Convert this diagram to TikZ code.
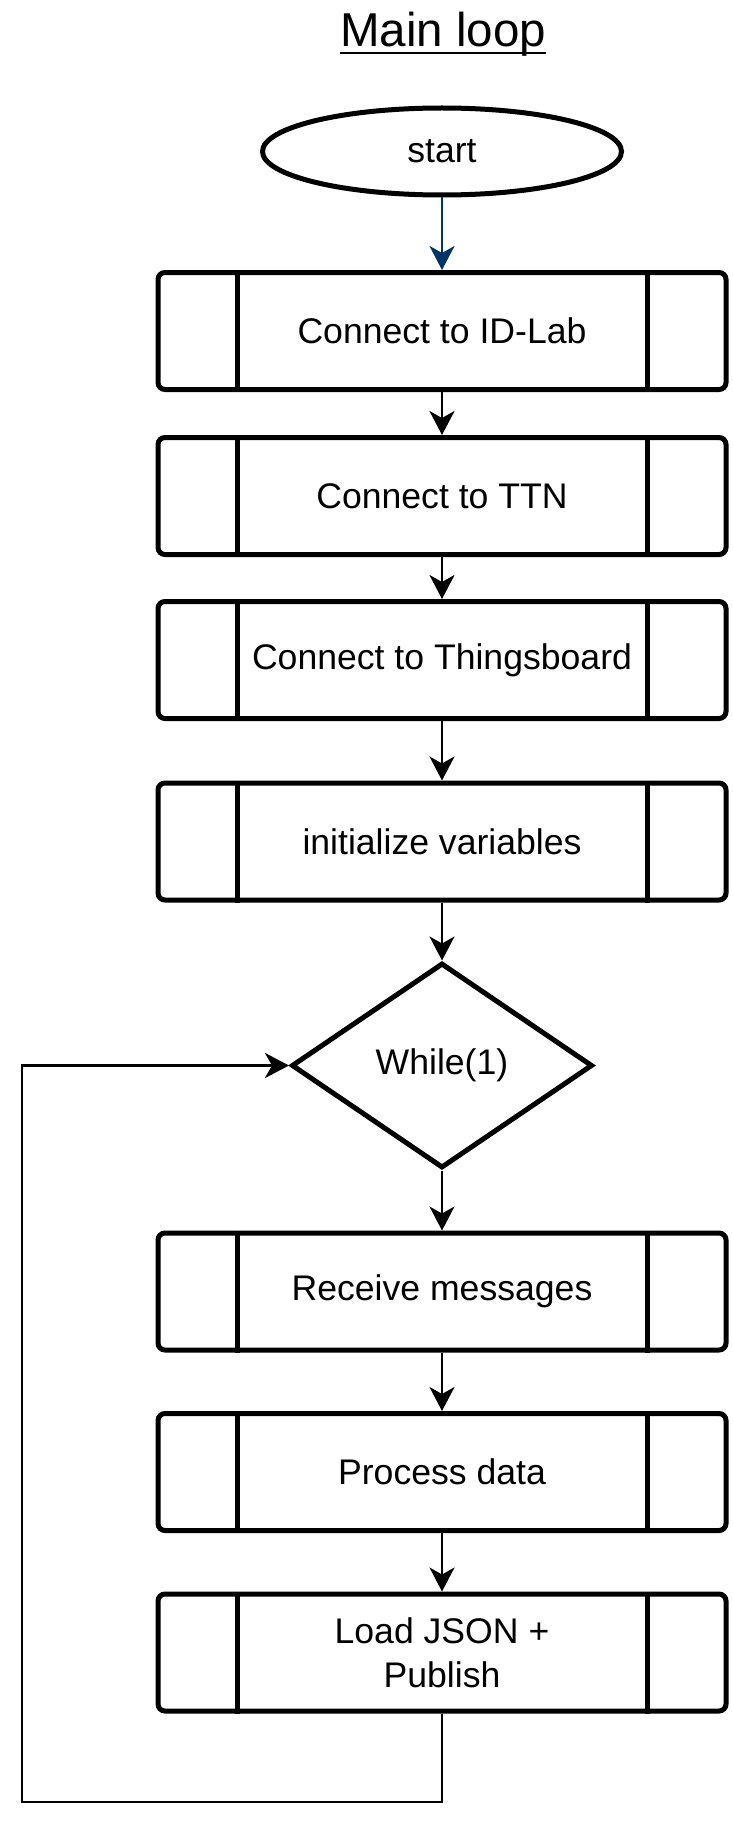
\documentclass[tikz,border=0pt]{standalone}
\usepackage{fontspec}
\setmainfont{Liberation Sans}
\usetikzlibrary{shapes.geometric,arrows.meta}
\definecolor{startblue}{RGB}{0,51,102}
\begin{document}
\begin{tikzpicture}[x=1pt,y=-1pt,
  boxfont/.style={font=\fontsize{35.6}{44}\selectfont},
  proc/.style={draw, line width=5pt, rounded corners=7pt, minimum width=568pt, minimum height=117pt, inner sep=0pt, boxfont, align=center},
  term/.style={draw, ellipse, line width=5pt, minimum width=359pt, minimum height=87pt, inner sep=0pt, boxfont},
  dec/.style={draw, diamond, line width=5pt, minimum width=301pt, minimum height=205pt, inner sep=0pt, boxfont},
  flow/.style={line width=2.4pt, -{Stealth[length=24pt,width=25pt,inset=7pt]}},
  inner/.style={line width=5pt},
]
\useasboundingbox (0,0) rectangle (732,1827);
\node[font=\fontsize{47.5}{50}\selectfont, anchor=base, inner sep=0pt] (title) at (443,47) {Main loop};
\draw[line width=2.5pt] ([yshift=-6pt]title.base west) -- ([yshift=-6pt]title.base east);

\node[term] (start) at (442,151.5) {start};
\node[proc] (b1) at (442,331) {Connect to ID-Lab};
\node[proc] (b2) at (442,496) {Connect to TTN};
\node[proc] (b3) at (442,660) {Connect to Thingsboard};
\node[proc] (b4) at (442,841.5) {initialize variables};
\node[dec] (dia) at (442,1065.5) {While(1)};
\node[proc] (b5) at (442,1291.5) {Receive messages};
\node[proc] (b6) at (442,1472) {Process data};
\node[proc] (b7) at (442,1652.5) {Load JSON +\\ Publish};

\foreach \n in {b1,b2,b3,b4,b5,b6,b7} {
  \draw[inner] ([xshift=82pt]\n.north west) -- ([xshift=82pt]\n.south west);
  \draw[inner] ([xshift=-81pt]\n.north east) -- ([xshift=-81pt]\n.south east);
}

\draw[flow, draw=startblue, fill=startblue] (start) -- (b1);
\draw[flow] (b1) -- (b2);
\draw[flow] (b2) -- (b3);
\draw[flow] (b3) -- (b4);
\draw[flow] (b4) -- (dia);
\draw[flow] (dia) -- (b5);
\draw[flow] (b5) -- (b6);
\draw[flow] (b6) -- (b7);
\coordinate (ll) at (22,1802);
\draw[flow] (b7.south) |- (ll) |- (dia.west);
\end{tikzpicture}
\end{document}
